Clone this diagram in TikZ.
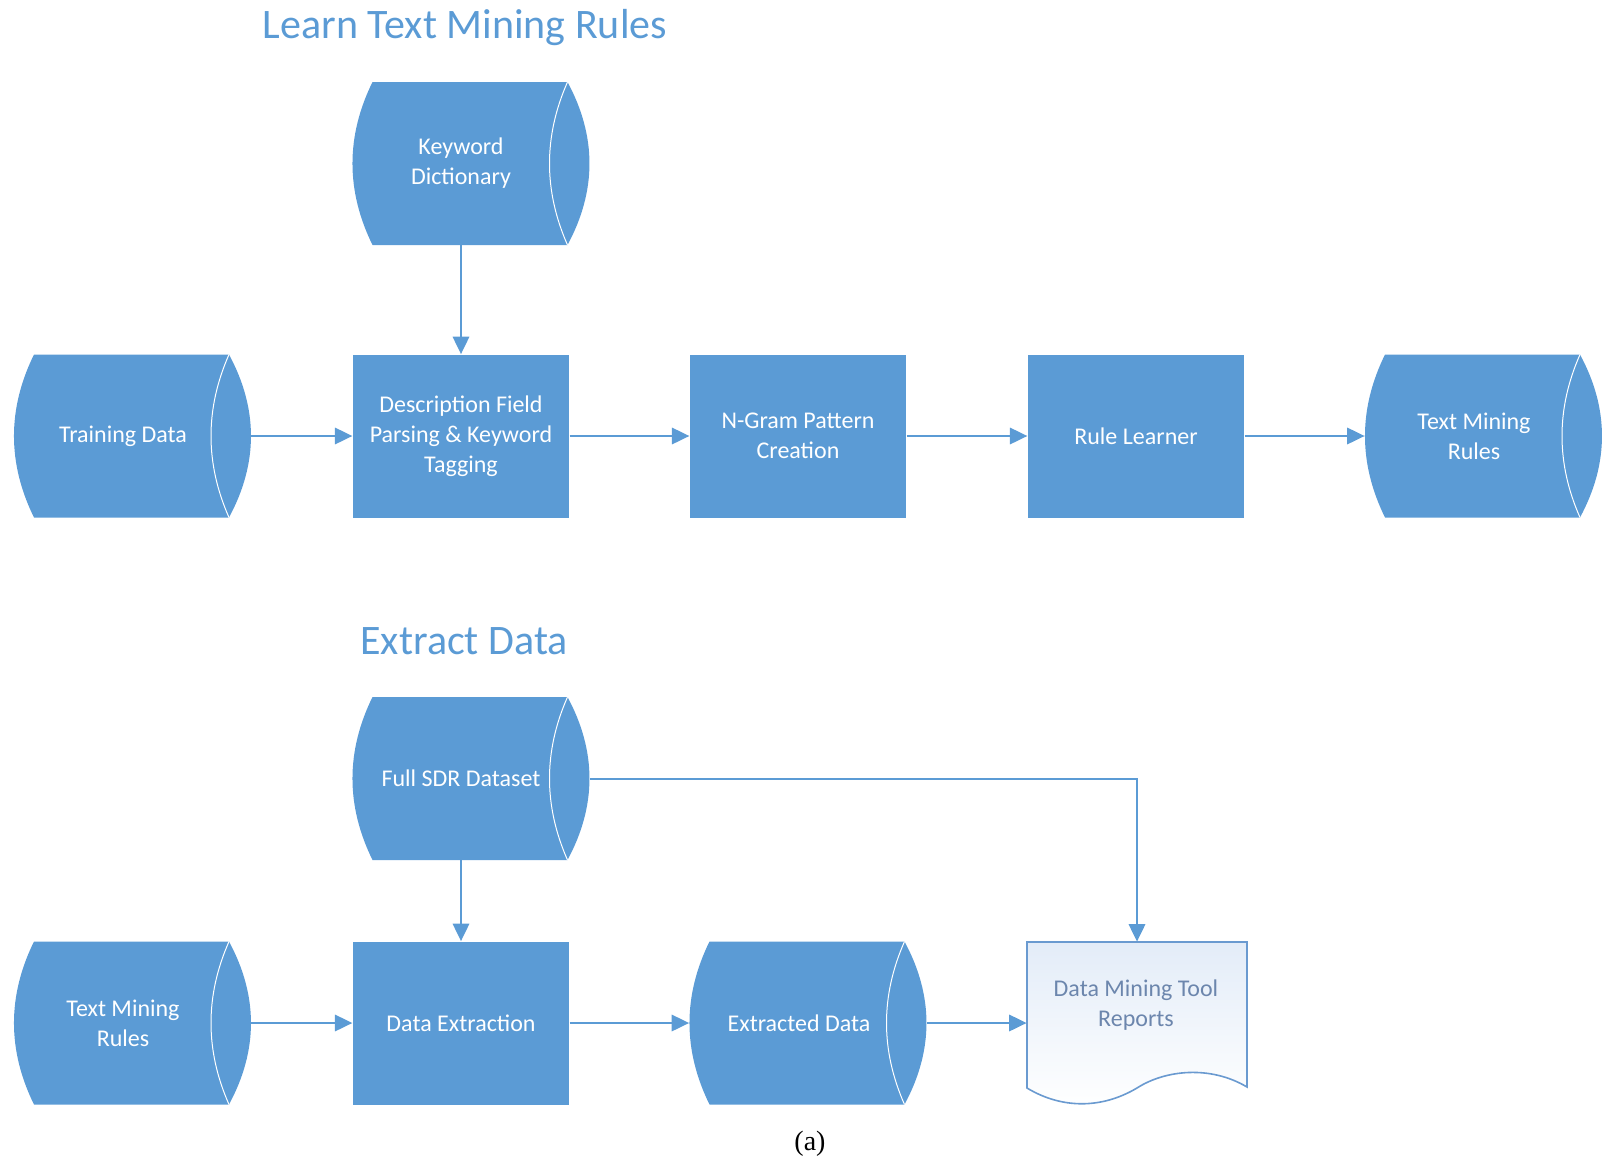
\documentclass[tikz,border=0pt]{standalone}
\usepackage{fontspec}
\setmainfont{Carlito}
\newfontfamily\capfont{Liberation Serif}
\usetikzlibrary{arrows.meta,calc}
\definecolor{ob}{HTML}{5B9BD5}
\definecolor{docline}{HTML}{6A9AD0}
\definecolor{doctext}{HTML}{6C86AD}
\definecolor{docfill}{HTML}{E3ECF8}
% storage body: #1 = left x, #2 = top y (pixel units)
\newcommand\storebody[2]{%
  \fill[ob] (#1+20,#2) -- (#1+215,#2)
    .. controls (#1+244.3,#2+54.3) and (#1+244.3,#2+108.7) .. (#1+215,#2+163)
    -- (#1+20,#2+163)
    .. controls (#1-6.7,#2+108.7) and (#1-6.7,#2+54.3) .. (#1+20,#2) -- cycle;
  \draw[white, line width=0.5pt] (#1+215,#2)
    .. controls (#1+191,#2+54.3) and (#1+191,#2+108.7) .. (#1+215,#2+163);
}
\begin{document}
\begin{tikzpicture}[x=0.5pt,y=-0.5pt,
  proc/.style={rectangle, fill=ob, minimum width=108.25pt, minimum height=81.5pt, inner sep=0pt},
  store/.style={rectangle, minimum width=118.5pt, minimum height=81.5pt, inner sep=0pt},
  lbl/.style={text=white, align=center, font=\fontsize{12}{15}\selectfont},
  ttl/.style={text=ob, font=\fontsize{21}{25}\selectfont, inner sep=0pt},
  arr/.style={draw=ob, line width=1pt, -{Triangle[length=8.7pt,width=8.2pt]}}]
\useasboundingbox (0,0) rectangle (1602,1162);

% titles
\node[ttl] (t1) at (465,28) {Learn Text Mining Rules};
\node[ttl] (t2) at (464,641) {Extract Data};

% ---- top section ----
\storebody{352.5}{82}
\node[store] (kw) at (471,163.5) {};
\node[lbl] (kwT) at (461,163.5) {Keyword\\Dictionary};

\storebody{14}{354.5}
\node[store] (train) at (132.5,436) {};
\node[lbl] (trainT) at (123,436) {Training Data};

\node[proc,lbl] (desc) at (461,436) {Description Field\\Parsing \& Keyword\\Tagging};
\node[proc,lbl] (ngram) at (798,436) {N-Gram Pattern\\Creation};
\node[proc,lbl] (rule) at (1136,436) {Rule Learner};

\storebody{1365}{354.5}
\node[store] (tmr1) at (1483.5,436) {};
\node[lbl] (tmr1T) at (1474,436) {Text Mining\\Rules};

\draw[arr] (desc.north |- kw.south) -- (desc.north);
\draw[arr] (train.east) -- (desc.west);
\draw[arr] (desc.east) -- (ngram.west);
\draw[arr] (ngram.east) -- (rule.west);
\draw[arr] (rule.east) -- (tmr1.west);

% ---- bottom section ----
\storebody{352.5}{697}
\node[store] (sdr) at (471,778.5) {};
\node[lbl] (sdrT) at (461,778.5) {Full SDR Dataset};

\storebody{14}{941.5}
\node[store] (tmr2) at (132.5,1023) {};
\node[lbl] (tmr2T) at (123,1023) {Text Mining\\Rules};

\node[proc,lbl] (dx) at (461,1023) {Data Extraction};

\storebody{689.5}{941.5}
\node[store] (ext) at (808,1023) {};
\node[lbl] (extT) at (799,1023) {Extracted Data};

% document shape
\path[top color=docfill, bottom color=white, draw=docline, line width=0.8pt]
  (1027,942) -- (1247,942) -- (1247,1087)
  .. controls (1210,1065) and (1165,1070) .. (1137,1088)
  .. controls (1100,1110) and (1060,1108) .. (1027,1088) -- cycle;
\node[rectangle, minimum width=110pt, minimum height=73pt, inner sep=0pt] (doc) at (1137,1015) {};
\node[lbl, text=doctext] (docT) at (1136,1005) {Data Mining Tool\\Reports};

\draw[arr] (sdr.south -| dx.north) -- (dx.north);
\draw[arr] (sdr.east) -| (doc.north);
\draw[arr] (tmr2.east) -- (dx.west);
\draw[arr] (dx.east) -- (ext.west);
\draw[arr] (ext.east) -- (ext.east -| doc.west);

\node[font=\capfont\fontsize{14}{16}\selectfont] (cap) at (810,1144) {(a)};
\end{tikzpicture}
\end{document}
